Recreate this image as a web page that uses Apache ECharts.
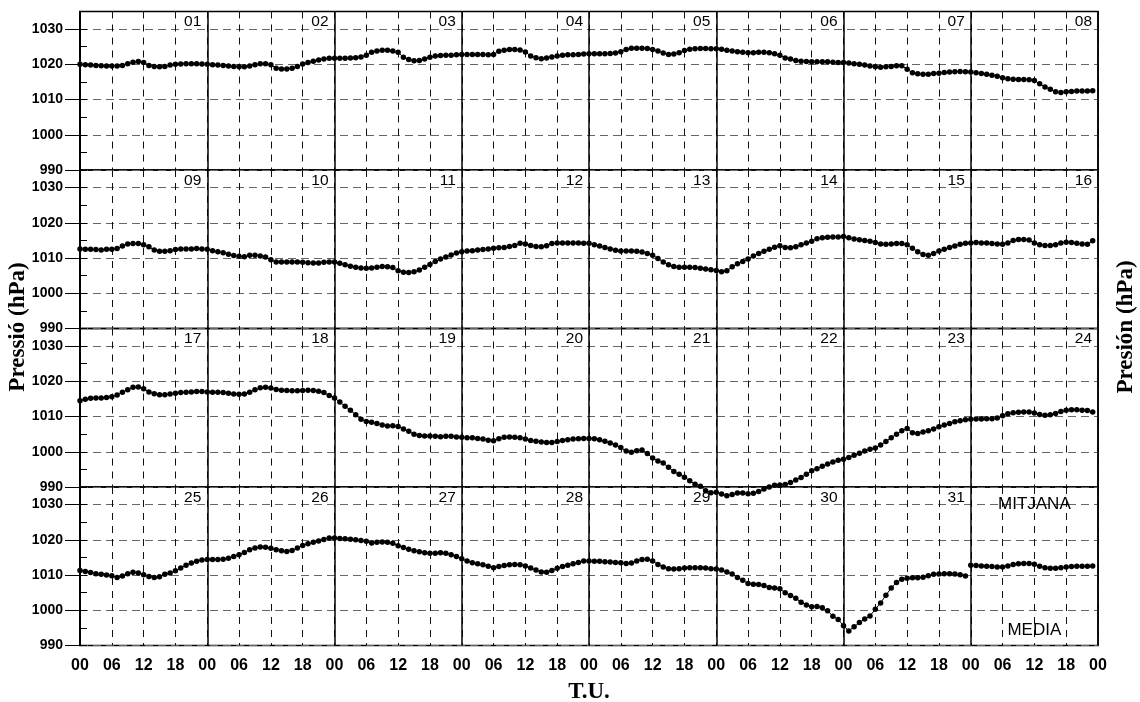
<!DOCTYPE html>
<html>
<head>
<meta charset="utf-8">
<script src="https://cdn.jsdelivr.net/npm/echarts@6/dist/echarts.min.js"></script>
<style>
html,body{margin:0;padding:0;background:#fff;}
#chart{width:1140px;height:702px;}
</style>
</head>
<body>
<div id="chart"></div>
<script>
// Hourly pressure (hPa), hours 00..23 of each day
const d01 = [1020.0,1019.9,1019.8,1019.7,1019.6,1019.5,1019.5,1019.5,1019.7,1020.2,1020.6,1020.8,1020.5,1019.7,1019.4,1019.3,1019.4,1019.8,1020.0,1020.1,1020.2,1020.2,1020.2,1020.1];
const d02 = [1020.0,1019.9,1019.8,1019.7,1019.5,1019.4,1019.3,1019.3,1019.5,1019.9,1020.2,1020.2,1019.9,1018.9,1018.7,1018.7,1018.9,1019.4,1020.1,1020.5,1020.9,1021.2,1021.5,1021.7];
const d03 = [1021.7,1021.7,1021.7,1021.8,1021.9,1022.1,1022.6,1023.4,1023.8,1024.0,1024.0,1023.8,1023.4,1022.0,1021.4,1021.0,1021.1,1021.5,1022.0,1022.4,1022.5,1022.6,1022.6,1022.7];
const d04 = [1022.8,1022.8,1022.8,1022.8,1022.8,1022.7,1022.8,1023.7,1024.0,1024.2,1024.2,1024.1,1023.5,1022.4,1021.9,1021.6,1021.8,1022.1,1022.4,1022.6,1022.7,1022.7,1022.8,1022.9];
const d05 = [1023.0,1023.0,1023.0,1023.0,1023.1,1023.2,1023.6,1024.2,1024.6,1024.6,1024.6,1024.5,1024.2,1023.8,1023.2,1022.8,1022.9,1023.3,1023.9,1024.3,1024.4,1024.5,1024.5,1024.4];
const d06 = [1024.4,1024.3,1024.0,1023.8,1023.6,1023.4,1023.3,1023.3,1023.4,1023.4,1023.3,1023.0,1022.6,1021.8,1021.5,1021.1,1020.9,1020.8,1020.7,1020.7,1020.7,1020.7,1020.6,1020.5];
const d07 = [1020.5,1020.4,1020.2,1020.0,1019.8,1019.5,1019.3,1019.2,1019.3,1019.4,1019.6,1019.6,1018.6,1017.6,1017.3,1017.2,1017.2,1017.4,1017.5,1017.7,1017.8,1017.9,1018.0,1017.9];
const d08 = [1017.8,1017.6,1017.4,1017.2,1016.9,1016.6,1016.2,1015.9,1015.8,1015.7,1015.7,1015.6,1015.4,1014.5,1013.6,1012.9,1012.2,1012.0,1012.2,1012.3,1012.4,1012.4,1012.4,1012.5];
const d09 = [1012.6,1012.5,1012.5,1012.4,1012.3,1012.5,1012.5,1012.7,1013.4,1014.0,1014.1,1014.1,1013.8,1013.2,1012.3,1011.9,1011.9,1012.1,1012.4,1012.6,1012.6,1012.6,1012.7,1012.6];
const d10 = [1012.5,1012.1,1011.8,1011.5,1011.1,1010.7,1010.5,1010.4,1010.8,1010.8,1010.6,1010.3,1009.5,1008.9,1008.9,1008.9,1008.9,1008.9,1008.8,1008.7,1008.6,1008.6,1008.8,1008.9];
const d11 = [1008.9,1008.5,1008.1,1007.7,1007.4,1007.2,1007.1,1007.2,1007.4,1007.6,1007.5,1007.3,1006.4,1006.0,1005.9,1006.1,1006.6,1007.4,1008.2,1009.0,1009.7,1010.3,1010.9,1011.4];
const d12 = [1011.8,1012.0,1012.1,1012.3,1012.4,1012.6,1012.8,1012.9,1013.0,1013.3,1013.6,1014.2,1014.0,1013.6,1013.3,1013.2,1013.5,1014.1,1014.3,1014.3,1014.3,1014.3,1014.3,1014.2];
const d13 = [1014.2,1013.8,1013.4,1013.0,1012.6,1012.2,1012.0,1012.0,1012.0,1011.9,1011.7,1011.3,1010.8,1009.9,1008.9,1008.1,1007.6,1007.4,1007.4,1007.4,1007.3,1007.1,1006.9,1006.7];
const d14 = [1006.5,1006.1,1006.4,1007.5,1008.4,1009.0,1009.7,1010.6,1011.3,1011.9,1012.5,1013.1,1013.5,1013.0,1012.9,1013.2,1013.8,1014.3,1014.8,1015.5,1015.8,1015.9,1016.0,1016.0];
const d15 = [1016.1,1015.8,1015.4,1015.2,1015.0,1014.8,1014.4,1014.0,1013.9,1014.0,1014.1,1014.1,1013.8,1012.8,1011.8,1011.0,1010.8,1011.3,1012.0,1012.5,1013.0,1013.4,1013.9,1014.2];
const d16 = [1014.3,1014.4,1014.3,1014.3,1014.1,1014.0,1013.9,1014.3,1015.0,1015.3,1015.3,1015.1,1014.3,1013.8,1013.6,1013.6,1013.8,1014.3,1014.5,1014.4,1014.2,1014.0,1013.9,1014.9];
const d17 = [1014.5,1014.9,1015.2,1015.3,1015.3,1015.4,1015.6,1016.1,1016.9,1017.6,1018.3,1018.4,1017.9,1017.0,1016.5,1016.2,1016.2,1016.4,1016.6,1016.8,1016.9,1017.0,1017.1,1017.1];
const d18 = [1017.0,1016.9,1016.9,1016.8,1016.6,1016.4,1016.3,1016.4,1016.9,1017.6,1018.2,1018.3,1018.1,1017.7,1017.5,1017.4,1017.3,1017.3,1017.4,1017.5,1017.4,1017.2,1016.8,1016.0];
const d19 = [1015.3,1014.1,1012.9,1011.8,1010.5,1009.2,1008.6,1008.4,1008.0,1007.6,1007.3,1007.4,1007.2,1006.5,1005.8,1005.0,1004.6,1004.5,1004.5,1004.4,1004.3,1004.4,1004.4,1004.2];
const d20 = [1004.1,1004.0,1004.0,1003.8,1003.6,1003.3,1003.1,1003.7,1004.1,1004.2,1004.1,1004.0,1003.6,1003.2,1003.0,1002.8,1002.6,1002.6,1002.9,1003.2,1003.4,1003.6,1003.7,1003.8];
const d21 = [1003.8,1003.7,1003.4,1003.0,1002.5,1001.9,1001.2,1000.2,999.9,1000.3,1000.5,999.5,998.2,997.4,996.8,995.6,994.4,993.6,992.8,991.8,990.8,990.2,988.9,988.4];
const d22 = [988.5,988.0,987.5,987.9,988.3,988.3,988.1,988.2,988.7,989.4,990.0,990.5,990.6,990.7,991.3,992.0,992.7,993.6,994.6,995.2,995.9,996.5,997.1,997.6];
const d23 = [997.9,998.4,999.0,999.6,1000.2,1000.7,1001.1,1001.9,1002.9,1004.0,1005.0,1006.0,1006.6,1005.4,1005.2,1005.6,1006.0,1006.5,1007.1,1007.6,1008.0,1008.5,1008.8,1009.1];
const d24 = [1009.2,1009.3,1009.3,1009.4,1009.4,1009.6,1010.2,1010.8,1011.1,1011.2,1011.3,1011.3,1011.0,1010.6,1010.4,1010.5,1010.9,1011.4,1011.8,1011.9,1011.9,1011.8,1011.7,1011.3];
const d25 = [1011.3,1011.0,1010.7,1010.4,1010.2,1010.0,1009.8,1009.3,1009.7,1010.4,1010.8,1010.6,1010.1,1009.6,1009.3,1009.5,1010.2,1010.6,1011.2,1012.0,1012.8,1013.4,1013.9,1014.3];
const d26 = [1014.4,1014.4,1014.4,1014.5,1014.8,1015.3,1015.8,1016.4,1017.2,1017.7,1018.0,1017.9,1017.6,1017.2,1016.9,1016.7,1017.0,1017.7,1018.4,1018.9,1019.3,1019.7,1020.1,1020.5];
const d27 = [1020.5,1020.4,1020.3,1020.2,1020.0,1019.8,1019.6,1019.1,1019.3,1019.4,1019.3,1019.0,1018.3,1017.8,1017.3,1016.9,1016.6,1016.3,1016.2,1016.2,1016.3,1016.2,1015.8,1015.3];
const d28 = [1014.6,1014.0,1013.5,1013.2,1012.9,1012.5,1012.1,1012.4,1012.7,1012.9,1013.0,1012.9,1012.6,1012.0,1011.4,1010.9,1010.8,1011.3,1011.9,1012.4,1012.8,1013.2,1013.6,1014.0];
const d29 = [1014.0,1013.9,1013.9,1013.8,1013.7,1013.6,1013.5,1013.3,1013.4,1014.0,1014.4,1014.5,1014.0,1013.0,1012.3,1011.8,1011.7,1011.8,1012.0,1012.1,1012.1,1012.1,1012.0,1011.8];
const d30 = [1011.7,1011.4,1010.9,1010.3,1009.3,1008.5,1007.6,1007.4,1007.3,1007.0,1006.5,1006.3,1006.1,1005.0,1004.2,1003.4,1002.3,1001.5,1001.0,1001.1,1000.7,999.9,998.3,997.4];
const d31 = [995.6,994.1,995.3,996.5,997.5,998.4,1000.3,1002.1,1004.3,1006.3,1007.9,1008.8,1009.1,1009.2,1009.2,1009.4,1009.8,1010.2,1010.3,1010.4,1010.4,1010.3,1010.1,1009.7];
const mitjana = [1012.8,1012.7,1012.6,1012.5,1012.4,1012.3,1012.3,1012.6,1013.0,1013.2,1013.3,1013.3,1013.1,1012.5,1012.1,1011.9,1011.9,1012.1,1012.3,1012.4,1012.5,1012.5,1012.5,1012.6];

const dayNames = ['01','02','03','04','05','06','07','08','09','10','11','12','13','14','15','16',
                  '17','18','19','20','21','22','23','24','25','26','27','28','29','30','31'];
const hourLabels = ['00','06','12','18'];
const yTickValues = [990,1000,1010,1020,1030];
const meanLabels = ['MITJANA','MEDIA'];
const yTitleLeft = 'Pressió (hPa)';
const yTitleRight = 'Presión (hPa)';
const xTitle = 'T.U.';

const days = [d01,d02,d03,d04,d05,d06,d07,d08,d09,d10,d11,d12,d13,d14,d15,d16,
              d17,d18,d19,d20,d21,d22,d23,d24,d25,d26,d27,d28,d29,d30,d31];

const SANS = "'Liberation Sans', Arial, sans-serif";
const SERIF = "'Liberation Serif', 'Times New Roman', serif";
const ROWS = 4, ROW_TOP = 11.5, ROW_H = 158.5;

function rowSeriesData(startDay, count) {
  const out = [];
  for (let k = 0; k < count; k++) {
    const arr = days[startDay + k];
    for (let h = 0; h < arr.length; h++) out.push([k * 24 + h, arr[h]]);
  }
  return out;
}

const labelStyle = (size) => ({fontFamily: SANS, fontSize: size, color: '#000', opacity: 1,
  textBorderWidth: 0, textShadowBlur: 0});

const grids = [], xAxes = [], yAxes = [], series = [];
for (let r = 0; r < ROWS; r++) {
  grids.push({left: 80, right: 42, top: ROW_TOP + r * ROW_H, height: ROW_H,
    show: true, borderColor: '#000', borderWidth: 1.5, backgroundColor: 'transparent'});
  const last = r === ROWS - 1;
  xAxes.push({
    gridIndex: r, type: 'value', min: 0, max: 192, interval: 6, position: 'bottom',
    axisLine: {show: false}, axisTick: {show: false},
    axisLabel: {show: last, interval: 0, margin: 12, fontFamily: SANS, fontWeight: 'bold', fontSize: 16, color: '#000',
      showMinLabel: true, showMaxLabel: true,
      formatter: v => hourLabels[(v % 24) / 6]},
    splitLine: {show: true, lineStyle: {color: '#111', width: 1, type: [7, 6]}}
  });
  xAxes.push({
    gridIndex: r, type: 'value', min: 0, max: 192, interval: 24, position: 'top',
    axisLine: {show: false}, axisTick: {show: false}, axisLabel: {show: false},
    splitLine: {show: true, lineStyle: {color: '#000', width: 1.5, type: 'solid'}}
  });
  yAxes.push({
    gridIndex: r, type: 'value', min: 990, max: 1035, interval: 10,
    axisLine: {show: true, lineStyle: {color: '#000', width: 1.5}},
    axisTick: {show: true, length: 15, lineStyle: {color: '#000', width: 1}, customValues: yTickValues},
    axisLabel: {show: true, margin: 17, fontFamily: SANS, fontWeight: 'bold', fontSize: 14, color: '#000',
      showMaxLabel: false, formatter: v => (v % 10 === 0 ? String(v) : '')},
    splitLine: {show: true, lineStyle: {color: '#666', width: 1, type: [8, 5]}}
  });
  yAxes.push({
    gridIndex: r, type: 'value', min: 990, max: 1035, interval: 5,
    axisLine: {show: false}, axisLabel: {show: false}, splitLine: {show: false},
    axisTick: {show: true, length: 7, lineStyle: {color: '#000', width: 1}}
  });

  const count = last ? 7 : 8;
  series.push({
    type: 'line', xAxisIndex: 2 * r, yAxisIndex: 2 * r, clip: false,
    data: rowSeriesData(r * 8, count),
    symbol: 'circle', symbolSize: 5.5, showSymbol: true,
    itemStyle: {color: '#000'}, lineStyle: {color: '#000', width: 1},
    silent: true, z: 5
  });
  const lab = [];
  for (let k = 0; k < count; k++) lab.push({value: [24 * (k + 1), 1032], name: dayNames[r * 8 + k]});
  series.push({
    type: 'scatter', xAxisIndex: 2 * r, yAxisIndex: 2 * r, clip: false, silent: true,
    symbolSize: 0, itemStyle: {color: '#000'},
    label: Object.assign({show: true, position: 'left', distance: 6, formatter: p => p.name}, labelStyle(15.5)),
    data: lab, z: 6
  });
  if (last) {
    series.push({
      type: 'line', xAxisIndex: 2 * r, yAxisIndex: 2 * r, clip: false,
      data: mitjana.map((v, h) => [168 + h, v]),
      symbol: 'circle', symbolSize: 5.5, showSymbol: true,
      itemStyle: {color: '#000'}, lineStyle: {color: '#000', width: 1},
      silent: true, z: 5
    });
    series.push({
      type: 'scatter', xAxisIndex: 2 * r, yAxisIndex: 2 * r, clip: false, silent: true,
      symbolSize: 0, itemStyle: {color: '#000'},
      label: Object.assign({show: true, position: 'inside', formatter: p => p.name}, labelStyle(17)),
      data: [{value: [180, 1030.2], name: meanLabels[0]}, {value: [180, 994.2], name: meanLabels[1]}], z: 6
    });
  }
}

const chart = echarts.init(document.getElementById('chart'), null, {renderer: 'canvas'});
chart.setOption({
  animation: false,
  backgroundColor: '#fff',
  grid: grids, xAxis: xAxes, yAxis: yAxes, series: series,
  graphic: [
    {type: 'text', silent: true, rotation: Math.PI / 2, x: 18, y: 327,
      style: {text: yTitleLeft, font: "bold 23px " + SERIF, fill: '#000', textAlign: 'center', textVerticalAlign: 'middle'}},
    {type: 'text', silent: true, rotation: Math.PI / 2, x: 1126, y: 327,
      style: {text: yTitleRight, font: "bold 23px " + SERIF, fill: '#000', textAlign: 'center', textVerticalAlign: 'middle'}},
    {type: 'text', silent: true, x: 589, y: 692,
      style: {text: xTitle, font: "bold 23px " + SERIF, fill: '#000', textAlign: 'center', textVerticalAlign: 'middle'}}
  ]
});
</script>
</body>
</html>
